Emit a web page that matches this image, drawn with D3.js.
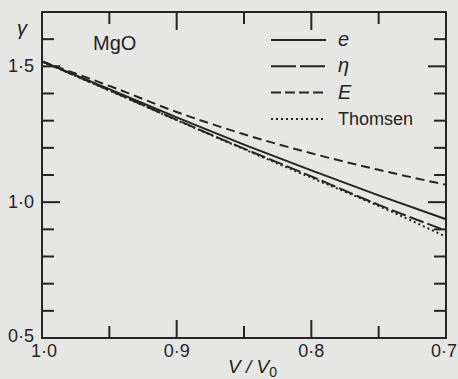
<!DOCTYPE html>
<html>
<head>
<meta charset="utf-8">
<script src="https://d3js.org/d3.v7.min.js"></script>
<style>
  body { margin: 0; background: #e6e6e4; }
  svg { display: block; }
  text { font-family: "Liberation Sans", Arial, sans-serif; fill: #242424; }
</style>
</head>
<body>
<div id="chart"></div>
<script>
// V/V0 samples and gamma values
var vv      = [1.0, 0.95, 0.9, 0.85, 0.8, 0.75, 0.7];
var gammaE  = [1.518, 1.416, 1.312, 1.212, 1.117, 1.025, 0.937];   // e (solid)
var gammaEta = [1.518, 1.412, 1.303, 1.197, 1.095, 0.990, 0.895];  // eta (long dash)
var gammaBigE = [1.518, 1.428, 1.332, 1.250, 1.180, 1.119, 1.064]; // E (short dash)
var gammaThomsen = [1.518, 1.411, 1.302, 1.195, 1.090, 0.986, 0.873];

var xMajor = [1.0, 0.9, 0.8, 0.7];
var xMinor = [0.95, 0.85, 0.75];
var xLabels = ["1·0", "0·9", "0·8", "0·7"];
var yMajor = [0.5, 1.0, 1.5];
var yMinor = [0.6, 0.7, 0.8, 0.9, 1.1, 1.2, 1.3, 1.4, 1.6];
var yLabels = ["0·5", "1·0", "1·5"];

var seriesNames = ["e", "η", "E", "Thomsen"];

var W = 458, H = 379;
var margin = {top: 12, right: 12, bottom: 41, left: 42};
var width = W - margin.left - margin.right;
var height = H - margin.top - margin.bottom;

var x = d3.scaleLinear().domain([1.0, 0.7]).range([0, width]);
var y = d3.scaleLinear().domain([0.5, 1.7]).range([height, 0]);

var svg = d3.select("#chart").append("svg")
    .attr("width", W).attr("height", H)
  .append("g")
    .attr("transform", "translate(" + margin.left + "," + margin.top + ")");

var ink = "#242424";

// frame
svg.append("rect")
    .attr("width", width).attr("height", height)
    .attr("fill", "none").attr("stroke", ink).attr("stroke-width", 2);

// inward ticks on all four sides
var majLen = 18, minLen = 12;
function xTicks(vals, len) {
  vals.forEach(function(v) {
    if (v === 1.0 || v === 0.7) return;
    svg.append("line").attr("x1", x(v)).attr("x2", x(v))
      .attr("y1", height).attr("y2", height - len)
      .attr("stroke", ink).attr("stroke-width", 2);
    svg.append("line").attr("x1", x(v)).attr("x2", x(v))
      .attr("y1", 0).attr("y2", len)
      .attr("stroke", ink).attr("stroke-width", 2);
  });
}
function yTicks(vals, len) {
  vals.forEach(function(v) {
    if (v === 0.5) return;
    svg.append("line").attr("x1", 0).attr("x2", len)
      .attr("y1", y(v)).attr("y2", y(v))
      .attr("stroke", ink).attr("stroke-width", 2);
    svg.append("line").attr("x1", width).attr("x2", width - len)
      .attr("y1", y(v)).attr("y2", y(v))
      .attr("stroke", ink).attr("stroke-width", 2);
  });
}
xTicks(xMajor, majLen);
xTicks(xMinor, minLen);
yTicks(yMajor, majLen);
yTicks(yMinor, minLen);

// tick labels (last one pinned to the right edge, it runs off in the original)
svg.selectAll("text.xl").data(xMajor).enter().append("text")
    .attr("class", "xl")
    .attr("x", function(d) { return d === 0.7 ? width + margin.right - 1 : x(d) + (d === 1.0 ? 2 : 0); })
    .attr("y", height + 19)
    .attr("text-anchor", function(d) { return d === 0.7 ? "end" : "middle"; })
    .style("font-size", "18px")
    .text(function(d, i) { return xLabels[i]; });

svg.selectAll("text.yl").data(yMajor).enter().append("text")
    .attr("class", "yl")
    .attr("x", -8)
    .attr("y", function(d) { return y(d) + (d === 0.5 ? 4 : 6); })
    .attr("text-anchor", "end")
    .style("font-size", "18px")
    .text(function(d, i) { return yLabels[i]; });

// axis titles
svg.append("text")
    .attr("x", -25).attr("y", 23)
    .style("font-size", "20px").style("font-style", "italic")
    .text("γ");

var xt = svg.append("text")
    .attr("x", 186).attr("y", height + 35)
    .style("font-size", "19px").style("font-style", "italic");
xt.append("tspan").text("V / V");
xt.append("tspan").attr("dy", 4).style("font-size", "14px").style("font-style", "normal").text("0");

svg.append("text")
    .attr("x", 51).attr("y", 38)
    .style("font-size", "20px")
    .text("MgO");

// curves
var styles = [
  {vals: gammaE, dash: null},
  {vals: gammaEta, dash: "15,4"},
  {vals: gammaBigE, dash: "9,5"},
  {vals: gammaThomsen, dash: "2,3"}
];

var line = d3.line()
    .x(function(d) { return x(d[0]); })
    .y(function(d) { return y(d[1]); })
    .curve(d3.curveMonotoneX);

styles.forEach(function(s) {
  var pts = vv.map(function(v, i) { return [v, s.vals[i]]; });
  svg.append("path")
      .attr("d", line(pts))
      .attr("fill", "none")
      .attr("stroke", ink)
      .attr("stroke-width", 2)
      .attr("stroke-dasharray", s.dash);
});

// legend
var legend = svg.append("g").attr("transform", "translate(229,28)");
styles.forEach(function(s, i) {
  var ly = i * 26.3;
  legend.append("line")
      .attr("x1", 0).attr("x2", 55)
      .attr("y1", ly).attr("y2", ly)
      .attr("stroke", ink).attr("stroke-width", 2)
      .attr("stroke-dasharray", i === 1 ? "25,4" : i === 2 ? "10,4" : s.dash);
  legend.append("text")
      .attr("x", 67).attr("y", ly + 6)
      .style("font-size", i === 3 ? "18px" : "20px")
      .style("font-style", i === 3 ? "normal" : "italic")
      .text(seriesNames[i]);
});
</script>
</body>
</html>
